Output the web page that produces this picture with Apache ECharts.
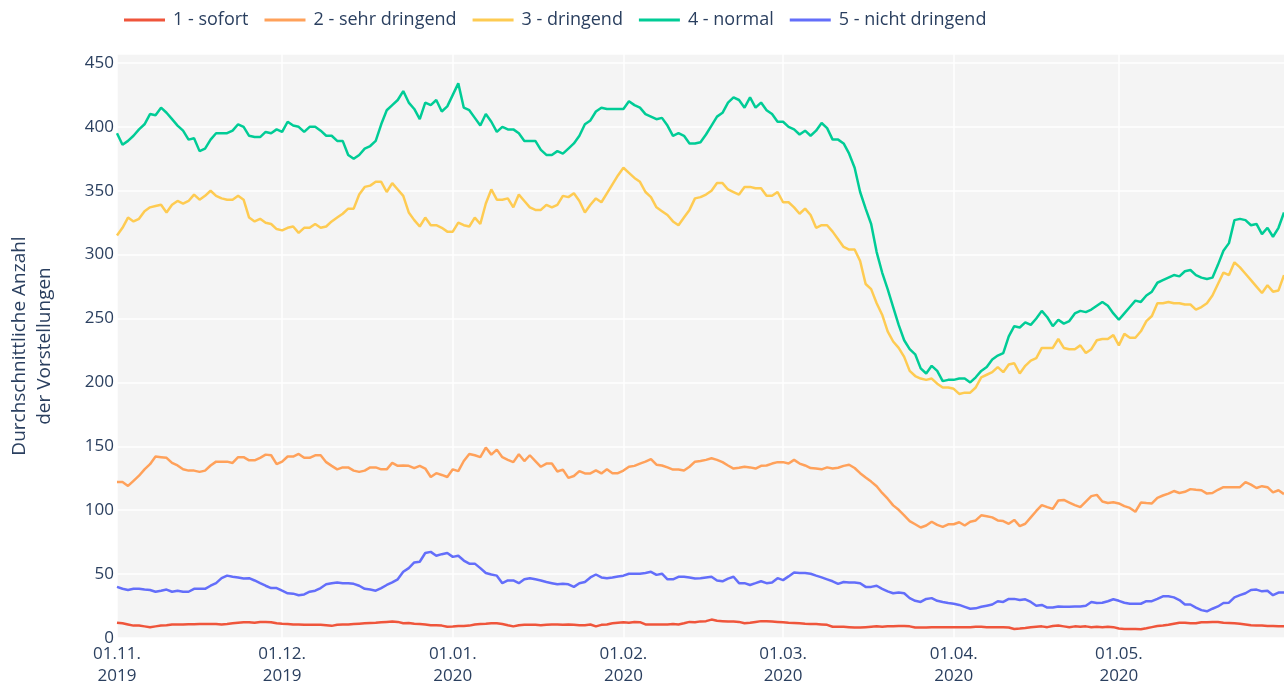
<!DOCTYPE html>
<html>
<head>
<meta charset="utf-8">
<script src="https://cdn.jsdelivr.net/npm/echarts@6/dist/echarts.min.js"></script>
<style>
  html, body { margin: 0; padding: 0; background: #fff; }
  #chart { width: 1284px; height: 684px; }
</style>
</head>
<body>
<div id="chart"></div>
<script>
// daily values, 01.11.2019 - 31.05.2020
const startDate = [2019, 10, 1];

const sofort = [
  12, 11.5, 10.6, 9.7, 9.7, 9.1, 8.5, 9.1, 9.7, 10,
  10.6, 10.6, 10.6, 10.8, 10.8, 10.9, 10.9, 11, 11, 10.6,
  11, 11.5, 12, 12.4, 12.4, 12, 12.6, 12.6, 12.4, 11.5,
  11.2, 11, 10.6, 10.6, 10.3, 10.3, 10.3, 10.3, 10, 9.5,
  10.3, 10.6, 10.6, 10.9, 11.2, 11.5, 11.8, 12, 12.3, 12.6,
  12.9, 12.6, 11.5, 11.8, 11.2, 11, 10.6, 10, 10, 9.7,
  8.8, 9, 9.4, 9.4, 9.7, 10.6, 11, 11.2, 11.5, 11.5,
  11, 10, 9.1, 10, 10.3, 10.3, 10.3, 10, 10.3, 10.6,
  10.6, 10.3, 10.6, 10.3, 10, 10, 10.6, 9.1, 10.3, 10.6,
  11.5, 12, 12.4, 12, 12.6, 12.4, 10.6, 10.6, 10.6, 10.6,
  10.6, 11, 10.6, 11.5, 12.6, 12.3, 13, 13.2, 14.4, 13.5,
  13.2, 12.9, 12.9, 12.6, 11.5, 12, 12.6, 13.2, 13.2, 12.9,
  12.6, 12.3, 12, 11.8, 11.5, 11.2, 11, 10.9, 10.6, 10.3,
  8.8, 8.8, 8.8, 8.5, 8.2, 8.2, 8.5, 8.8, 9.1, 8.8,
  9.1, 9.1, 9.4, 9.4, 9.1, 8.2, 8.2, 8.2, 8.5, 8.5,
  8.5, 8.5, 8.5, 8.5, 8.5, 8.5, 8.8, 8.8, 8.5, 8.5,
  8.5, 8.5, 8.2, 7, 7.4, 7.9, 8.5, 8.8, 9.1, 8.5,
  9.4, 9.7, 9.1, 8.5, 9.1, 8.8, 9.1, 8.5, 8.8, 8.5,
  8.8, 8.5, 7.4, 7.1, 7.1, 7, 6.8, 7.6, 8.5, 9.4,
  9.7, 10.3, 11.2, 12, 12, 11.5, 11.5, 12.4, 12.4, 12.6,
  12.6, 12, 11.8, 11.5, 11.2, 10.6, 10, 9.7, 9.7, 9.4,
  9.4, 9.1, 9.1
];

const sehrDringend = [
  122, 122, 119, 123, 127, 132, 136, 142, 141.5, 141,
  137, 135, 132, 131, 131, 130, 131, 135, 138, 138,
  138, 137, 141.5, 141.5, 139, 139, 141, 143.5, 143, 136,
  138, 142, 142, 144, 141, 141, 143, 143, 137.6, 134.7,
  132, 133.5, 133.5, 131, 130, 131, 133.5, 133.5, 132, 132,
  137, 134.7, 135, 134.7, 133, 134.7, 132.6, 126, 129, 127.6,
  126, 132, 130.6, 138.5, 144, 143, 141.5, 149, 143.5, 147.4,
  141.5, 139.4, 137.6, 143.8, 138.5, 143, 138.5, 134, 136.5, 136.5,
  130.3, 131.8, 125.3, 126.8, 130.6, 128.8, 128.8, 131.2, 128.8, 132,
  129, 129, 131, 134, 134.7, 136.5, 138, 140, 135.6, 135,
  133.5, 131.8, 131.8, 131, 134, 138, 138.5, 139.4, 140.6, 139.4,
  137.6, 135, 132.6, 133.2, 134, 133.5, 132.6, 134.7, 135, 136.5,
  137.6, 137.6, 136.5, 139.4, 136.5, 135, 133, 132.6, 132, 133.5,
  132.6, 133.2, 134.7, 135.6, 133, 129, 125.6, 122.4, 118.8, 113.5,
  109, 103.8, 100.3, 96, 91.5, 89, 86.5, 88, 91, 88.5,
  87, 89, 89, 90.6, 88, 91, 92, 96, 95.3, 94.4,
  92, 91.5, 89.4, 92.4, 87.6, 89.4, 94.4, 99.4, 104, 102.4,
  101, 107.6, 108, 106, 104, 102.4, 106.8, 111, 112, 106.8,
  105.6, 106.2, 105.3, 103.2, 101.8, 98.8, 106, 105.6, 105.3, 109.7,
  111.5, 113, 115, 113.5, 114.4, 116.5, 116, 115.6, 113, 113.5,
  116, 118, 118, 118, 118, 122, 120, 117.4, 118.8, 118,
  114, 115.6, 112.6
];

const dringend = [
  315, 321, 329, 326, 328, 334, 337, 338, 339, 333,
  339, 342, 340, 342, 347, 343, 346, 350, 346, 344,
  343, 343, 346, 343, 329, 326, 328, 325, 324, 320,
  319, 321, 322, 317, 321, 321, 324, 321, 322, 326,
  329, 332, 336, 336, 347, 353, 354, 357, 357, 349,
  356, 351, 346, 333, 327, 322, 329, 323, 323, 321,
  318, 318, 325, 323, 322, 329, 324, 340, 351, 343,
  343, 344, 337, 347, 342, 337, 335, 335, 339, 337,
  339, 346, 345, 348, 342, 333, 339, 344, 341, 348,
  355, 362, 368, 364, 360, 357, 349, 345, 337, 334,
  331, 326, 323, 329, 335, 344, 345, 347, 350, 356,
  356, 351, 349, 347, 353, 353, 352, 352, 346, 346,
  349, 341, 341, 337, 332, 336, 331, 321, 323, 323,
  318, 312, 306, 304, 304, 295, 277, 273, 262, 253,
  240, 232, 227, 220, 209, 205, 203, 202, 203, 199,
  196, 196, 195, 191, 192, 192, 196, 204, 206, 208,
  212, 208, 214, 215, 207, 213, 217, 219, 227, 227,
  227, 234, 227, 226, 226, 229, 223, 226, 233, 234,
  234, 237, 229, 238, 235, 235, 240, 248, 252, 262,
  262, 263, 262, 262, 261, 261, 257, 259, 262, 268,
  277, 286, 284, 294, 290, 285, 280, 275, 270, 276,
  271, 272, 284
];

const normal = [
  395, 386, 389, 393, 398, 402, 410, 409, 415, 411,
  406, 401, 397, 390, 391, 381, 383, 390, 395, 395,
  395, 397, 402, 400, 393, 392, 392, 396, 395, 398,
  396, 404, 401, 400, 396, 400, 400, 397, 393, 393,
  389, 389, 378, 375, 378, 383, 385, 389, 402, 413,
  417, 421, 428, 419, 414, 406, 419, 417, 421, 412,
  416, 425, 434, 415, 413, 407, 401, 410, 404, 396,
  400, 398, 398, 395, 389, 389, 389, 382, 378, 378,
  381, 379, 383, 387, 393, 402, 405, 412, 415, 414,
  414, 414, 414, 420, 417, 415, 410, 408, 406, 407,
  401, 393, 395, 393, 387, 387, 388, 394, 401, 408,
  411, 419, 423, 421, 415, 423, 415, 419, 413, 410,
  404, 404, 400, 398, 394, 397, 393, 397, 403, 399,
  390, 390, 387, 379, 368, 349, 336, 324, 302, 286,
  273, 259, 245, 233, 226, 222, 211, 207, 213, 209,
  201, 202, 202, 203, 203, 200, 204, 209, 212, 218,
  221, 223, 236, 244, 243, 247, 245, 250, 256, 251,
  244, 249, 246, 248, 254, 256, 255, 257, 260, 263,
  260, 254, 249, 254, 259, 264, 263, 268, 271, 278,
  280, 282, 284, 283, 287, 288, 284, 282, 281, 282,
  292, 303, 309, 327, 328, 327, 323, 324, 316, 321,
  314, 321, 333
];

const nichtDringend = [
  40, 38.5, 37.6, 38.5, 38.5, 37.9, 37.6, 36.2, 37, 37.9,
  36.2, 37, 36.2, 36.2, 38.5, 38.5, 38.5, 40.9, 42.9, 46.8,
  48.8, 47.9, 47.4, 46.5, 46.8, 45, 42.9, 40.9, 39.1, 39.1,
  37, 35, 34.7, 33.5, 34.1, 36.2, 37, 39.1, 42, 42.9,
  43.5, 42.9, 42.9, 42.4, 40.9, 38.5, 37.9, 37, 39.1, 41.5,
  43.5, 45.9, 51.8, 54.7, 59.1, 59.7, 66.5, 67.4, 64.4, 65.6,
  66.5, 63.5, 64.4, 60.6, 58.2, 58.2, 54.7, 50.9, 49.7, 48.8,
  42.9, 45, 45, 42.9, 45.9, 46.8, 45.9, 45, 43.8, 42.9,
  42, 42.4, 42, 40, 42.9, 43.8, 47.4, 49.7, 47.4, 46.8,
  47.4, 48.2, 48.8, 50.3, 50.3, 50.3, 50.9, 51.8, 49.4, 50.3,
  45.9, 45.9, 47.9, 47.9, 47.4, 46.5, 46.8, 47.4, 47.9, 45,
  44.4, 46.5, 47.9, 42.9, 42.9, 41.5, 42.9, 44.4, 42.9, 43.5,
  46.8, 45.3, 48.2, 51.2, 50.9, 50.9, 50.3, 48.8, 47.4, 45.9,
  44.4, 42.4, 43.8, 43.5, 43.5, 42.9, 40, 40, 40.9, 38.5,
  36.5, 35, 35.6, 35, 31.2, 29.1, 28.2, 30.6, 31.2, 29.1,
  28.2, 27.4, 26.8, 25.9, 24.4, 22.9, 23.2, 24.4, 25.3, 26.2,
  28.8, 28.2, 30.6, 30.6, 29.7, 30.3, 28.2, 25.3, 25.9, 23.8,
  23.8, 24.7, 24.4, 24.4, 24.7, 24.7, 25.3, 28.2, 27.4, 27.6,
  28.8, 30.3, 29.1, 27.6, 26.8, 26.8, 26.8, 28.8, 28.8, 30.6,
  32.6, 32.6, 31.8, 29.7, 26.2, 26.2, 23.8, 21.8, 20.9, 22.9,
  24.7, 27.4, 27.6, 31.8, 33.5, 35, 37.6, 37.9, 36.5, 37,
  33.5, 35.6, 35.6
];

const seriesNames = ['1 - sofort', '2 - sehr dringend', '3 - dringend', '4 - normal', '5 - nicht dringend'];
const seriesColors = ['#EF553B', '#FFA15A', '#FECB52', '#00CC96', '#636EFA'];
const seriesData = [sofort, sehrDringend, dringend, normal, nichtDringend];

// one category per day
const days = [];
for (let i = 0; i < normal.length; i++) {
  const d = new Date(Date.UTC(startDate[0], startDate[1], startDate[2] + i));
  days.push(d.toISOString().slice(0, 10));
}
const isMonthStart = (idx, val) => val.slice(8, 10) === '01';

const chart = echarts.init(document.getElementById('chart'));
const font = '"Open Sans", "DejaVu Sans", sans-serif';
const textColor = '#2a3f5f';

chart.setOption({
  backgroundColor: '#fff',
  animation: false,
  textStyle: { fontFamily: font },
  legend: {
    top: 6,
    left: 119,
    icon: 'rect',
    itemWidth: 41,
    itemHeight: 3,
    itemGap: 16,
    textStyle: { fontFamily: font, fontSize: 18, color: textColor, padding: [0, 0, 0, 3] },
    data: seriesNames
  },
  grid: {
    left: 117, right: 0, top: 54, bottom: 46,
    outerBoundsMode: 'none',
    show: true, backgroundColor: '#f4f4f4', borderWidth: 0
  },
  xAxis: {
    type: 'category',
    data: days,
    boundaryGap: false,
    axisLine: { show: false },
    axisTick: { show: false },
    axisLabel: {
      interval: isMonthStart,
      margin: 5,
      fontFamily: font,
      fontSize: 17,
      color: textColor,
      lineHeight: 22,
      formatter: v => v.slice(8, 10) + '.' + v.slice(5, 7) + '.\n' + v.slice(0, 4)
    },
    splitLine: { show: true, interval: isMonthStart, lineStyle: { color: '#fff', width: 1.5 } }
  },
  yAxis: {
    type: 'value',
    min: 0,
    max: 457,
    interval: 50,
    name: 'Durchschnittliche Anzahl\nder Vorstellungen',
    nameLocation: 'middle',
    nameGap: 60,
    nameTextStyle: { fontFamily: font, fontSize: 19, color: textColor, lineHeight: 25 },
    axisLine: { show: false },
    axisTick: { show: false },
    axisLabel: { showMaxLabel: false, margin: 3, fontFamily: font, fontSize: 17, color: textColor },
    splitLine: { lineStyle: { color: '#fff', width: 1.5 } }
  },
  series: seriesNames.map((name, i) => ({
    name: name,
    type: 'line',
    data: seriesData[i],
    symbol: 'none',
    lineStyle: { width: 2.5, color: seriesColors[i] },
    itemStyle: { color: seriesColors[i] }
  }))
});
</script>
</body>
</html>
